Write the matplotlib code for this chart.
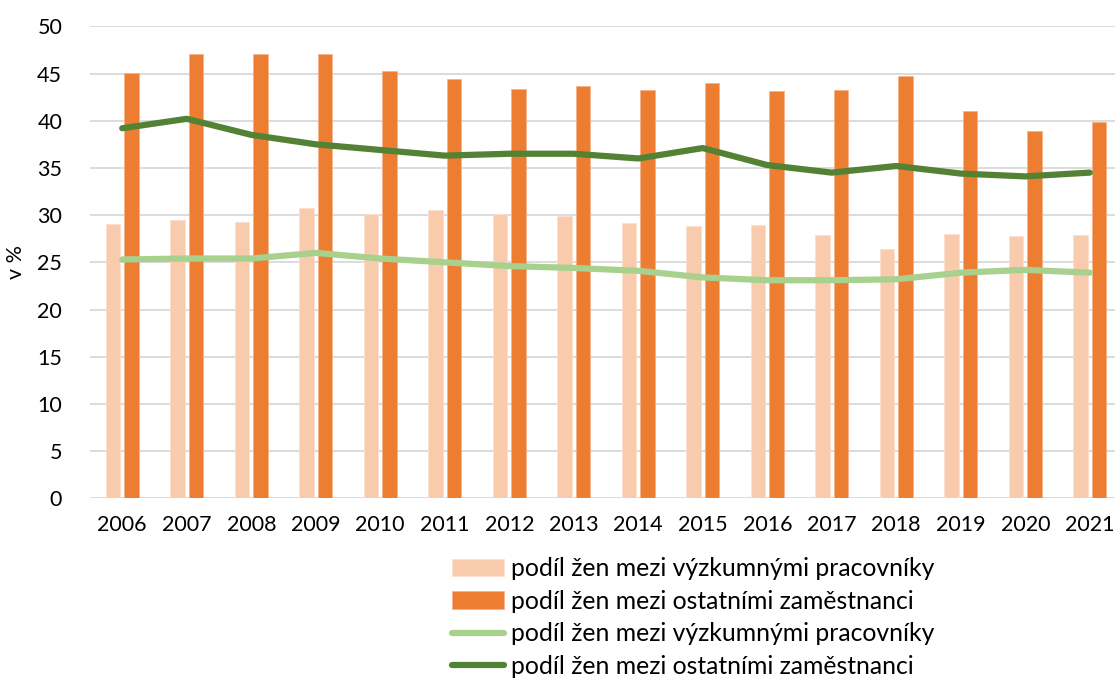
import numpy as np
import matplotlib
matplotlib.use('Agg')
import matplotlib.pyplot as plt

plt.rcParams['font.family'] = ['Lato', 'DejaVu Sans']

# roky a hodnoty (v %)
years = ['2006', '2007', '2008', '2009', '2010', '2011', '2012', '2013',
         '2014', '2015', '2016', '2017', '2018', '2019', '2020', '2021']
bar_research = [29.1, 29.5, 29.3, 30.7, 30.1, 30.5, 30.1, 29.9,
                29.2, 28.8, 29.0, 27.9, 26.4, 28.0, 27.8, 27.9]
bar_other = [45.1, 47.1, 47.1, 47.1, 45.3, 44.4, 43.4, 43.7,
             43.3, 44.0, 43.1, 43.2, 44.7, 41.0, 38.9, 39.9]
line_research = [25.3, 25.4, 25.4, 26.0, 25.4, 25.0, 24.6, 24.4,
                 24.1, 23.4, 23.1, 23.1, 23.2, 23.9, 24.2, 23.9]
line_other = [39.2, 40.2, 38.5, 37.5, 36.9, 36.3, 36.5, 36.5,
              36.0, 37.1, 35.3, 34.5, 35.2, 34.4, 34.1, 34.5]
label_research = 'podíl žen mezi výzkumnými pracovníky'
label_other = 'podíl žen mezi ostatními zaměstnanci'

fig = plt.figure(figsize=(11.15, 6.8), dpi=100)
ax = fig.add_axes([90 / 1115, 181.7 / 680, 1032 / 1115, 472 / 680])

x = np.arange(len(years))
w = 0.225
b1 = ax.bar(x - 0.145, bar_research, width=w, color='#F8CBAD', edgecolor='#FBE0CE',
            linewidth=0.6, label=label_research, zorder=2)
b2 = ax.bar(x + 0.145, bar_other, width=w, color='#ED7D31', edgecolor='#F5B48A',
            linewidth=0.6, label=label_other, zorder=2)
l1, = ax.plot(x, line_research, color='#A9D18E', lw=4.5, solid_capstyle='round',
              solid_joinstyle='round', label=label_research, zorder=3)
l2, = ax.plot(x, line_other, color='#548235', lw=4.5, solid_capstyle='round',
              solid_joinstyle='round', label=label_other, zorder=3)

ax.set_xlim(-0.5, len(years) - 0.5)
ax.set_ylim(0, 50)
ax.set_yticks(np.arange(0, 51, 5))
ax.set_xticks(x)
ax.set_xticklabels(years)
ax.tick_params(axis='both', length=0, labelsize=15.5, colors='#000000')
ax.tick_params(axis='y', pad=20)
ax.tick_params(axis='x', pad=12)
ax.grid(axis='y', color='#D9D9D9', linewidth=1.3, zorder=0)
ax.set_axisbelow(True)
for s in ax.spines.values():
    s.set_visible(False)
ax.set_ylabel('v %', fontsize=15.5, labelpad=8)

fig.legend([b1, b2, l1, l2], [label_research, label_other, label_research, label_other],
           loc='upper left', bbox_to_anchor=(452 / 1115, 1 - 557 / 680),
           frameon=False, fontsize=17.8, handlelength=2.1, handletextpad=0.28,
           labelspacing=0.39, borderpad=0, borderaxespad=0)

fig.savefig('out.png', dpi=100)
